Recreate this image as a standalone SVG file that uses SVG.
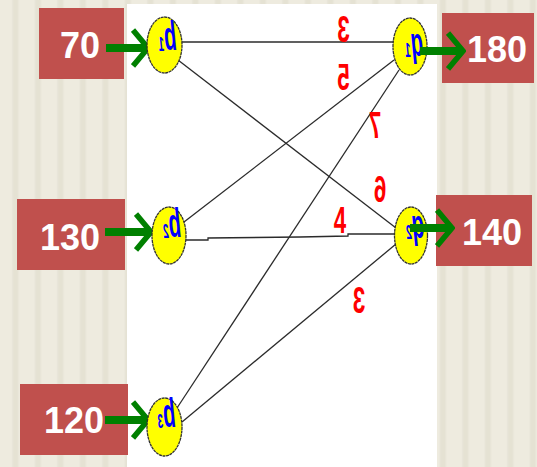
<svg xmlns="http://www.w3.org/2000/svg" width="537" height="467" viewBox="0 0 537 467">
  <defs>
    <pattern id="stripes" x="4" y="0" width="22.5" height="467" patternUnits="userSpaceOnUse">
      <rect width="22.5" height="467" fill="#EEEBDF"/>
      <rect x="9" width="5" height="467" fill="#E5E2D3"/>
      <rect x="8" width="1" height="467" fill="#E9E6D9"/>
      <rect x="14" width="1" height="467" fill="#E9E6D9"/>
    </pattern>
    <marker id="chev" viewBox="0 0 20 40" refX="17" refY="20" markerWidth="20" markerHeight="40" markerUnits="userSpaceOnUse" orient="auto">
      <path d="M2,2 L17,20 L2,38" fill="none" stroke="#008000" stroke-width="5.5"/>
    </marker>
  </defs>
  <style>
    .box { fill: #C0504D; }
    .qty { font-family: "Liberation Sans", Arial, sans-serif; font-weight: bold; font-size: 36px; fill: #FFFFFF; }
    .flow { stroke: #008000; stroke-width: 8; fill: none; marker-end: url(#chev); }
    .node { fill: #FFFF00; stroke: #333333; stroke-width: 1.3; stroke-dasharray: 3 0.6; }
    .lbl { font-family: "Liberation Sans", Arial, sans-serif; font-style: italic; font-weight: bold; font-size: 40px; fill: #0000FF; }
    .sub { font-size: 20px; }
    .edge { stroke: #2B2B2B; stroke-width: 1.3; fill: none; }
    .cost { font-family: "Liberation Sans", Arial, sans-serif; font-weight: bold; font-size: 36px; fill: #FF0000; }
  </style>

  <!-- striped backdrop and white panel -->
  <rect width="537" height="467" fill="url(#stripes)"/>
  <rect x="127" y="4" width="310" height="463" fill="#FFFFFF"/>

  <!-- connectors -->
  <g id="connectors">
    <line class="edge" x1="182" y1="42" x2="394" y2="42" stroke-width="1.8"/>
    <line class="edge" x1="178" y1="60" x2="396" y2="228"/>
    <line class="edge" x1="184" y1="222" x2="394" y2="60"/>
    <polyline class="edge" points="186,240 208,240 208,238 300,237 348,236 348,234 395,234" stroke-width="1.8"/>
    <line class="edge" x1="177" y1="408" x2="399" y2="70"/>
    <line class="edge" x1="182" y1="422" x2="396" y2="244"/>
  </g>

  <!-- edge costs -->
  <g id="costs">
    <text class="cost" transform="translate(343.5,42) scale(-0.62,1)" text-anchor="middle">3</text>
    <text class="cost" transform="translate(343.5,90) scale(-0.62,1)" text-anchor="middle">5</text>
    <text class="cost" transform="translate(375,138) scale(-0.62,1)" text-anchor="middle">7</text>
    <text class="cost" transform="translate(380,202) scale(-0.62,1)" text-anchor="middle">6</text>
    <text class="cost" transform="translate(340,233) scale(0.62,1)" text-anchor="middle">4</text>
    <text class="cost" transform="translate(359,313) scale(-0.62,1)" text-anchor="middle">3</text>
  </g>

  <!-- supply / demand boxes -->
  <g id="s1">
    <rect class="box" x="39" y="8" width="85" height="71"/>
    <text class="qty" x="80" y="58" text-anchor="middle">70</text>
    <line class="flow" x1="106" y1="48" x2="148" y2="48"/>
  </g>
  <g id="s2">
    <rect class="box" x="17" y="199" width="108" height="71"/>
    <text class="qty" x="70" y="250" text-anchor="middle">130</text>
    <line class="flow" x1="105" y1="232" x2="151" y2="232"/>
  </g>
  <g id="s3">
    <rect class="box" x="20" y="384" width="108" height="71"/>
    <text class="qty" x="74" y="433" text-anchor="middle">120</text>
    <line class="flow" x1="105" y1="420" x2="148" y2="420"/>
  </g>
  <g id="d1">
    <rect class="box" x="442" y="13" width="92" height="70"/>
    <text class="qty" x="497" y="62" text-anchor="middle">180</text>
  </g>
  <g id="d2">
    <rect class="box" x="436" y="195" width="96" height="71"/>
    <text class="qty" x="492" y="245" text-anchor="middle">140</text>
  </g>

  <!-- nodes -->
  <g id="b1">
    <ellipse class="node" cx="164.5" cy="45" rx="17.5" ry="28"/>
    <text class="lbl" transform="translate(167.5,50) scale(-0.5,1)" text-anchor="middle">b<tspan class="sub" dy="1">1</tspan></text>
  </g>
  <g id="b2">
    <ellipse class="node" cx="169" cy="235.5" rx="17" ry="28.5"/>
    <text class="lbl" transform="translate(172,237) scale(-0.5,1)" text-anchor="middle">b<tspan class="sub" dy="1">2</tspan></text>
  </g>
  <g id="b3">
    <ellipse class="node" cx="164.5" cy="427" rx="17.5" ry="29"/>
    <text class="lbl" transform="translate(166.5,427) scale(-0.5,1)" text-anchor="middle">b<tspan class="sub" dy="1">3</tspan></text>
  </g>
  <g id="q1">
    <ellipse class="node" cx="410" cy="46.5" rx="17" ry="28.5"/>
    <text class="lbl" transform="translate(414,56) scale(-0.5,1)" text-anchor="middle" font-size="36">q<tspan class="sub" dy="1">1</tspan></text>
  </g>
  <g id="q2">
    <ellipse class="node" cx="411" cy="235.5" rx="16.5" ry="28.5"/>
    <text class="lbl" transform="translate(415,238) scale(-0.5,1)" text-anchor="middle" font-size="36">q<tspan class="sub" dy="1">2</tspan></text>
  </g>

  <!-- outgoing flows drawn over the demand nodes -->
  <g id="outflows">
    <line class="flow" x1="420" y1="51" x2="463" y2="51"/>
    <line class="flow" x1="410" y1="228" x2="452" y2="228"/>
  </g>
</svg>
